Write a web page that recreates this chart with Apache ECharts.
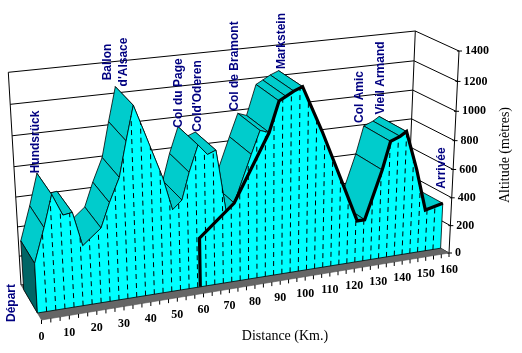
<!DOCTYPE html>
<html>
<head>
<meta charset="utf-8">
<style>html,body{margin:0;padding:0;background:#fff}#main{width:522px;height:353px}</style>
<script src="https://cdn.jsdelivr.net/npm/echarts@6/dist/echarts.min.js"></script>
</head>
<body>
<div id="main"></div>
<script>
// km along the stage and altitude (m) of each profile point
var distances = [0, 4, 7.3, 10.9, 14.3, 17.5, 24.4, 27.8, 31.7, 34.6, 37.6, 41.3, 47.6, 51, 54.6, 57.5, 61, 64.5, 67.7, 68.9, 71.3, 74.5, 81.2, 84.6, 88.1, 91.9, 94.6, 97.6, 101, 108.9, 118, 123.9, 127, 133.7, 136.8, 140.7, 143.3, 148.2, 152.6, 160];
var altitudes = [335, 561, 768, 625, 634, 405, 505, 664, 819, 1047, 1266, 1088, 780, 558, 614, 791, 962, 892, 913, 781, 503, 544, 854, 1004, 983, 1181, 1205, 1233, 1255, 946, 552, 294, 294, 627, 816, 842, 869, 595, 298, 328];
// the heavy line starts at km 61
var routeDistances = [61, 61, 74.5, 88.1, 91.9, 94.6, 97.6, 101, 108.9, 118, 123.9, 127, 133.7, 136.8, 140.7, 143.3, 148.2, 152.6, 160];
var routeAltitudes = [0, 339, 544, 983, 1181, 1205, 1233, 1255, 946, 552, 294, 294, 627, 816, 842, 869, 595, 298, 328];
var altitudeTicks = [0, 200, 400, 600, 800, 1000, 1200, 1400];
var distanceLabels = [0, 10, 20, 30, 40, 50, 60, 70, 80, 90, 100, 110, 120, 130, 140, 150, 160];
var distanceStep = 10 / 3;
var passNames = ['Départ', 'Hundsrück', 'Ballon', "d'Alsace", 'Col du Page', "Cold'Oderen", 'Col de Bramont', 'Markstein', 'Col Amic', 'Vieil Armand', 'Arrivée'];
var passLabelPos = [[12, 303], [36, 142], [108, 62], [124, 62], [179, 93], [198, 96], [235, 66], [282, 41], [360, 97], [381, 78], [442, 168]];

// box corners in px: floor then top, front-left, front-right, back-left, back-right
var floorBox = [[41.5, 320], [449, 253], [21, 285], [407, 229]];
var topBox = [[29.5, 102], [459, 51], [8.3, 72.3], [415.3, 31]];
var dataFront = 0.2, dataBack = 0.87;
var warpU = 0.1, warpN = -0.06;

function mix(a, b, t) {
  return [a[0] + (b[0] - a[0]) * t, a[1] + (b[1] - a[1]) * t];
}
function boxPoint(box, u, z) {
  return mix(mix(box[0], box[1], u), mix(box[2], box[3], u), z);
}
// the grid is a plain 0-160 / 0-1400 scale, its output is then put into the 3D box
function project(api, km, depth, alt) {
  var p = api.coord([km, alt]);
  var u = p[0] / api.getWidth();
  var n = 1 - p[1] / api.getHeight();
  u = u * (1 + warpU) / (1 + warpU * u);
  n = n * (1 + warpN) / (1 + warpN * n);
  return mix(boxPoint(floorBox, u, depth), boxPoint(topBox, u, depth), n);
}
function altitudeAt(km) {
  for (var i = 1; i < distances.length; i++) {
    if (km <= distances[i]) {
      var t = (km - distances[i - 1]) / (distances[i] - distances[i - 1]);
      return altitudes[i - 1] + (altitudes[i] - altitudes[i - 1]) * t;
    }
  }
  return altitudes[altitudes.length - 1];
}
function line(a, b, width, dash) {
  return {
    type: 'line',
    shape: { x1: a[0], y1: a[1], x2: b[0], y2: b[1] },
    style: { stroke: '#000', lineWidth: width || 1, lineDash: dash || null, fill: null }
  };
}
function poly(points, fill, width, stroke) {
  return {
    type: 'polygon',
    shape: { points: points },
    style: { fill: fill, stroke: stroke || '#000', lineWidth: width || 0.8 }
  };
}

var segments = [];
for (var s = distances.length - 2; s >= 0; s--) segments.push([s]);
var dropKm = [];
for (var k = 1; k < 48; k++) dropKm.push([k * distanceStep]);
var tickKm = [];
for (var t = 0; t <= 48; t++) tickKm.push([t * distanceStep]);

function renderWall(params, api) {
  var a = api.value(0);
  var axisPt = project(api, 160, 0, a);
  var corner = project(api, 160, 1, a);
  return {
    type: 'group',
    children: [
      line(project(api, 0, 1, a), corner),
      line(corner, axisPt),
      line([axisPt[0] - 2, axisPt[1]], [axisPt[0] + 3, axisPt[1]]),
      {
        type: 'text',
        style: {
          text: String(a), x: axisPt[0] + 6, y: axisPt[1],
          font: 'bold 12px "Liberation Serif"', fill: '#000', align: 'left', verticalAlign: 'middle'
        }
      }
    ]
  };
}
function renderFrame(params, api) {
  return {
    type: 'group',
    children: [
      line(project(api, 0, 1, 0), project(api, 0, 1, 1400)),
      line(project(api, 160, 1, 0), project(api, 160, 1, 1400)),
      line(project(api, 160, 0, 0), project(api, 160, 0, 1400)),
      poly([project(api, 0, 0, 0), project(api, 160, 0, 0), project(api, 160, 1, 0), project(api, 0, 1, 0)], '#666666', 0.6, '#555')
    ]
  };
}
function renderTick(params, api) {
  var km = api.value(0);
  var p = project(api, km, 0, 0);
  var children = [line(p, [p[0], p[1] + 4])];
  var tenth = Math.round(km);
  if (distanceLabels.indexOf(tenth) >= 0 && Math.abs(km - tenth) < 0.01) {
    children.push({
      type: 'text',
      style: {
        text: String(tenth), x: p[0], y: p[1] + 17,
        font: 'bold 12px "Liberation Serif"', fill: '#000', align: 'center', verticalAlign: 'middle'
      }
    });
  }
  return { type: 'group', children: children };
}
function renderSegment(params, api) {
  var i = api.value(0);
  return poly([
    project(api, distances[i], dataFront, altitudes[i]),
    project(api, distances[i + 1], dataFront, altitudes[i + 1]),
    project(api, distances[i + 1], dataBack, altitudes[i + 1]),
    project(api, distances[i], dataBack, altitudes[i])
  ], '#00CCCC');
}
function renderFront(params, api) {
  var pts = [project(api, 0, dataFront, 0)];
  for (var i = 0; i < distances.length; i++) {
    pts.push(project(api, distances[i], dataFront, altitudes[i]));
  }
  pts.push(project(api, 160, dataFront, 0));
  return {
    type: 'group',
    children: [
      poly([project(api, 0, dataFront, 0), project(api, 0, dataFront, altitudes[0]), project(api, 0, dataBack, altitudes[0]), project(api, 0, dataBack, 0)], '#006666'),
      poly(pts, '#00FFFF')
    ]
  };
}
function renderDrop(params, api) {
  var km = api.value(0);
  return line(project(api, km, dataFront, 0), project(api, km, dataFront, altitudeAt(km)), 1, [5, 4]);
}
function renderRoute(params, api) {
  var pts = [];
  for (var i = 0; i < routeDistances.length; i++) {
    pts.push(project(api, routeDistances[i], dataFront, routeAltitudes[i]));
  }
  return {
    type: 'polyline',
    shape: { points: pts },
    style: { stroke: '#000', lineWidth: 3.2, fill: null, lineJoin: 'miter' }
  };
}
function customSeries(render, data, z) {
  return {
    type: 'custom',
    coordinateSystem: 'cartesian2d',
    renderItem: render,
    data: data,
    z: z,
    silent: true,
    animation: false,
    encode: { x: 0 }
  };
}

var graphics = [];
for (var g = 0; g < passNames.length; g++) {
  graphics.push({
    type: 'text',
    x: passLabelPos[g][0],
    y: passLabelPos[g][1],
    rotation: Math.PI / 2,
    z: 50,
    style: {
      text: passNames[g], font: 'bold 12px "Liberation Sans"', fill: '#000080',
      align: 'center', verticalAlign: 'middle'
    }
  });
}
graphics.push({
  type: 'text', x: 285, y: 336, z: 50,
  style: { text: 'Distance (Km.)', font: '14px "Liberation Serif"', fill: '#000', align: 'center', verticalAlign: 'middle' }
});
graphics.push({
  type: 'text', x: 505, y: 155, z: 50, rotation: Math.PI / 2,
  style: { text: 'Altitude (mètres)', font: '14px "Liberation Serif"', fill: '#000', align: 'center', verticalAlign: 'middle' }
});

var myChart = echarts.init(document.getElementById('main'));
myChart.setOption({
  animation: false,
  backgroundColor: '#fff',
  grid: { left: 0, right: 0, top: 0, bottom: 0 },
  xAxis: { type: 'value', min: 0, max: 160, show: false },
  yAxis: { type: 'value', min: 0, max: 1400, show: false },
  graphic: graphics,
  series: [
    customSeries(renderWall, altitudeTicks.map(function (a) { return [a]; }), 1),
    customSeries(renderFrame, [[0]], 2),
    customSeries(renderTick, tickKm, 3),
    customSeries(renderSegment, segments, 4),
    customSeries(renderFront, [[0]], 5),
    customSeries(renderDrop, dropKm, 6),
    customSeries(renderRoute, [[0]], 7)
  ]
});
</script>
</body>
</html>
